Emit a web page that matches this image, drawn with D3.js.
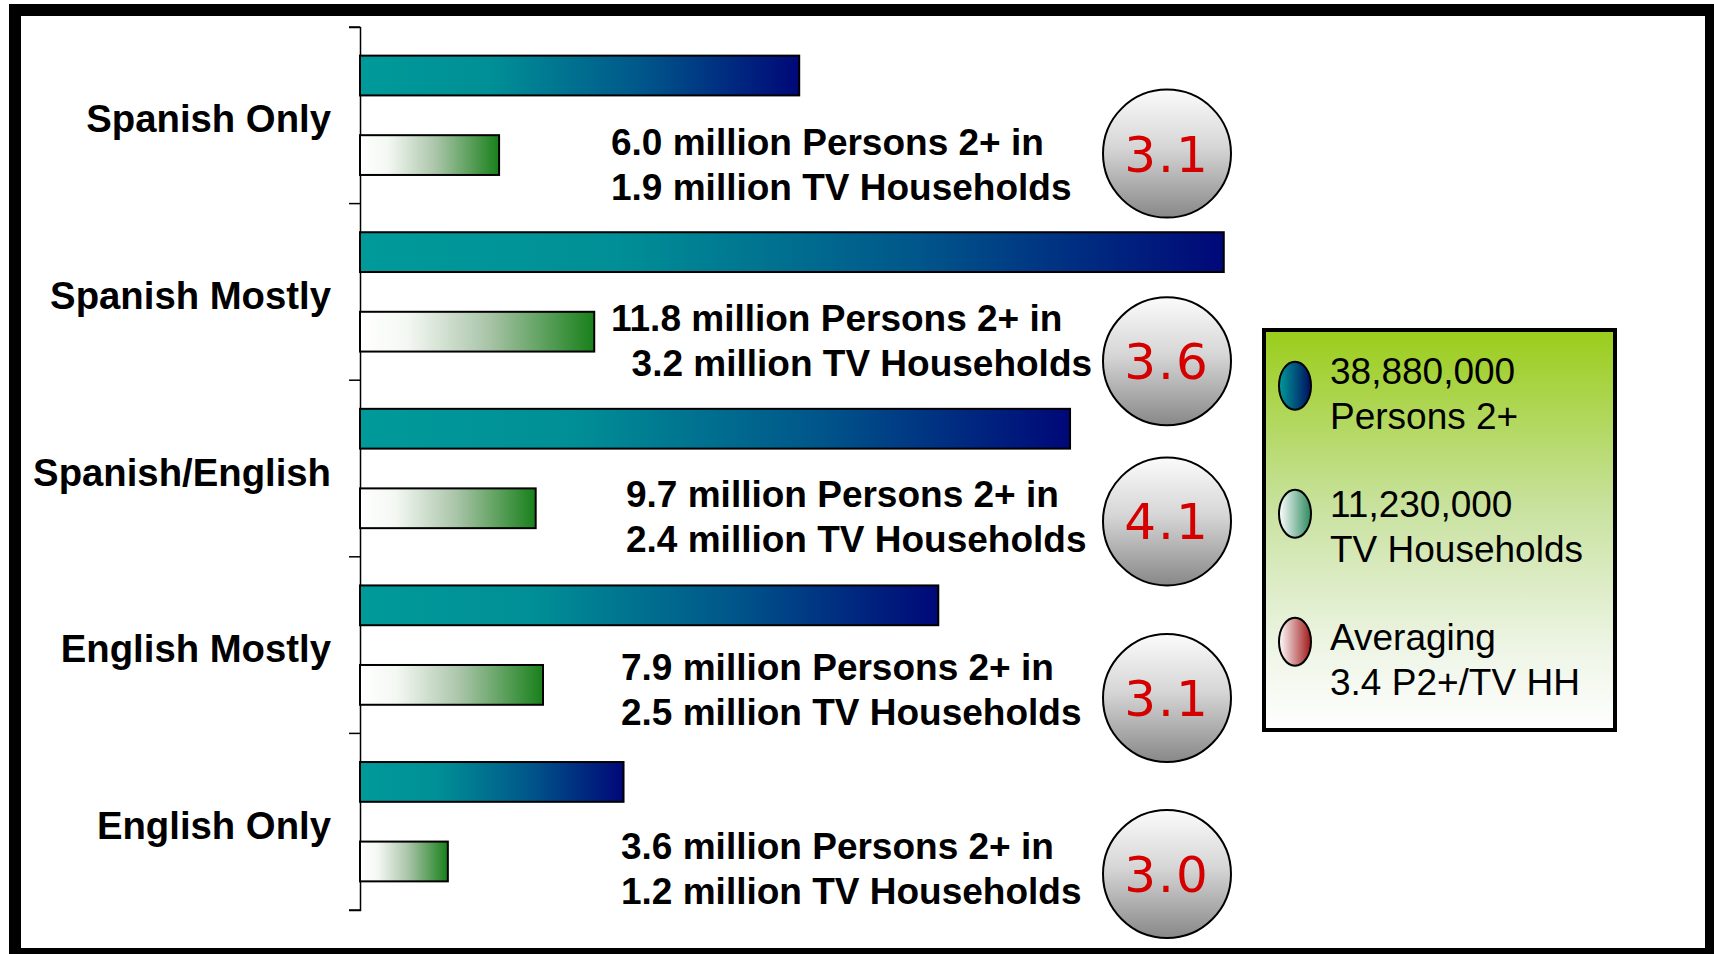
<!DOCTYPE html>
<html>
<head>
<meta charset="utf-8">
<script src="https://cdn.jsdelivr.net/npm/d3@7"></script>
<style>
  html, body { margin: 0; padding: 0; background: #fff; }
  svg { display: block; }
  text { white-space: pre; }
</style>
</head>
<body>
<svg id="chart" width="1714" height="954"></svg>
<script>
// ---- data ----
const categories = ["Spanish Only", "Spanish Mostly", "Spanish/English", "English Mostly", "English Only"];
const persons = [6.0, 11.8, 9.7, 7.9, 3.6];          // millions, Persons 2+
const households = [1.9, 3.2, 2.4, 2.5, 1.2];        // millions, TV households
const ratios = ["3.1", "3.6", "4.1", "3.1", "3.0"];  // persons per TV HH
const annotLine1 = ["6.0 million Persons 2+ in", "11.8 million Persons 2+ in", "9.7 million Persons 2+ in", "7.9 million Persons 2+ in", "3.6 million Persons 2+ in"];
const annotLine2 = ["1.9 million TV Households", "\u00a0\u00a03.2 million TV Households", "2.4 million TV Households", "2.5 million TV Households", "1.2 million TV Households"];
const legendLine1 = ["38,880,000", "11,230,000", "Averaging"];
const legendLine2 = ["Persons 2+", "TV Households", "3.4 P2+/TV HH"];
const series = ["persons", "households"];

// ---- layout (not data) ----
const annotX = [611, 611, 626, 621, 621];
const annotDY = [128, 127.5, 127, 123, 126];
const circleDY = [126.6, 157.7, 141.2, 141.2, 140.6];

const svg = d3.select("#chart");
const defs = svg.append("defs");

function hGrad(id, stops, vertical) {
  const g = defs.append("linearGradient").attr("id", id)
    .attr("x1", "0").attr("y1", "0")
    .attr("x2", vertical ? "0" : "1").attr("y2", vertical ? "1" : "0");
  stops.forEach(s => g.append("stop").attr("offset", s[0]).attr("stop-color", s[1]));
}
hGrad("gBlue", [[0, "#009a9a"], [0.3, "#008f96"], [0.65, "#00558a"], [1, "#000878"]]);
hGrad("gGreen", [[0, "#ffffff"], [0.2, "#f4f8f3"], [0.55, "#a9c4a8"], [1, "#18801a"]]);
hGrad("gCircle", [[0, "#fbfbfb"], [0.45, "#d6d6d6"], [1, "#888888"]], true);
hGrad("gLegend", [[0, "#9acd1a"], [0.45, "#c9e2a0"], [0.8, "#eef5e6"], [1, "#ffffff"]], true);
hGrad("gLeg1", [[0, "#009a9a"], [1, "#001060"]]);
hGrad("gLeg2", [[0, "#ffffff"], [1, "#2e8a60"]]);
hGrad("gLeg3", [[0, "#ffffff"], [1, "#a01818"]]);

// ---- scales ----
const y = d3.scaleBand().domain(categories).range([27, 910]).paddingInner(0).paddingOuter(0);
const ySub = d3.scaleBand().domain(series).range([0, y.bandwidth()]).paddingInner(0.5).paddingOuter(0.36);
const x = d3.scaleLinear().domain([0, 12]).range([360, 360 + 12 * 73.2]);

// ---- frame ----
svg.append("rect").attr("x", 15).attr("y", 10).attr("width", 1696).attr("height", 944)
  .attr("fill", "none").attr("stroke", "#000").attr("stroke-width", 12);

// ---- axis ----
const axis = d3.axisLeft(y).tickSize(11).tickFormat("");
const axG = svg.append("g").attr("transform", "translate(360,0)").call(axis);
axG.selectAll(".tick").remove();
axG.select(".domain").attr("stroke", "#000").attr("stroke-width", 1.5);
// category boundary ticks
const bounds = categories.map(c => y(c)).concat([y.range()[1]]);
svg.selectAll("line.bt").data(bounds).enter().append("line")
  .attr("x1", 349).attr("x2", 360).attr("y1", d => d).attr("y2", d => d)
  .attr("stroke", "#000").attr("stroke-width", 1.5);

// ---- category labels ----
svg.selectAll("text.cat").data(categories).enter().append("text")
  .attr("x", 331).attr("y", d => y(d) + y.bandwidth() / 2 + 17)
  .attr("text-anchor", "end")
  .attr("font-family", "'Liberation Sans', Arial, sans-serif")
  .attr("font-weight", "bold").attr("font-size", 38.3)
  .text(d => d);

// ---- bars ----
const rows = categories.map((c, i) => ({ c, i, persons: persons[i], households: households[i] }));
svg.selectAll("rect.p").data(rows).enter().append("rect")
  .attr("x", x(0)).attr("y", d => y(d.c) + ySub("persons"))
  .attr("width", d => x(d.persons) - x(0)).attr("height", ySub.bandwidth())
  .attr("fill", "url(#gBlue)").attr("stroke", "#000").attr("stroke-width", 2);
svg.selectAll("rect.h").data(rows).enter().append("rect")
  .attr("x", x(0)).attr("y", d => y(d.c) + ySub("households"))
  .attr("width", d => x(d.households) - x(0)).attr("height", ySub.bandwidth())
  .attr("fill", "url(#gGreen)").attr("stroke", "#000").attr("stroke-width", 2);

// ---- annotations ----
const ann = svg.selectAll("g.ann").data(rows).enter().append("g")
  .attr("font-family", "'Liberation Sans', Arial, sans-serif")
  .attr("font-weight", "bold").attr("font-size", 37);
ann.append("text").attr("x", d => annotX[d.i]).attr("y", d => y(d.c) + annotDY[d.i])
  .text(d => annotLine1[d.i]);
ann.append("text").attr("x", d => annotX[d.i]).attr("y", d => y(d.c) + annotDY[d.i] + 45)
  .text(d => annotLine2[d.i]);

// ---- ratio circles ----
const circ = svg.selectAll("g.circ").data(rows).enter().append("g")
  .attr("transform", d => `translate(1167,${y(d.c) + circleDY[d.i]})`);
circ.append("circle").attr("r", 64).attr("fill", "url(#gCircle)")
  .attr("stroke", "#000").attr("stroke-width", 2);
circ.append("text").attr("text-anchor", "middle").attr("y", 18)
  .attr("font-family", "'DejaVu Sans', Verdana, sans-serif")
  .attr("font-size", 50).attr("fill", "#d40000")
  .attr("letter-spacing", 2)
  .text(d => ratios[d.i]);

// ---- legend ----
const lg = svg.append("g");
lg.append("rect").attr("x", 1264).attr("y", 330).attr("width", 351).attr("height", 400)
  .attr("fill", "url(#gLegend)").attr("stroke", "#000").attr("stroke-width", 4);
const legFills = ["url(#gLeg1)", "url(#gLeg2)", "url(#gLeg3)"];
const li = lg.selectAll("g.li").data(legendLine1).enter().append("g");
li.append("ellipse").attr("cx", 1295).attr("cy", (d, i) => 385.7 + i * 128)
  .attr("rx", 16).attr("ry", 24).attr("fill", (d, i) => legFills[i])
  .attr("stroke", "#000").attr("stroke-width", 2);
li.append("text").attr("x", 1330).attr("y", (d, i) => 384 + i * 133)
  .attr("font-family", "'Liberation Sans', Arial, sans-serif").attr("font-size", 37)
  .text(d => d);
li.append("text").attr("x", 1330).attr("y", (d, i) => 429 + i * 133)
  .attr("font-family", "'Liberation Sans', Arial, sans-serif").attr("font-size", 37)
  .text((d, i) => legendLine2[i]);
</script>
</body>
</html>
